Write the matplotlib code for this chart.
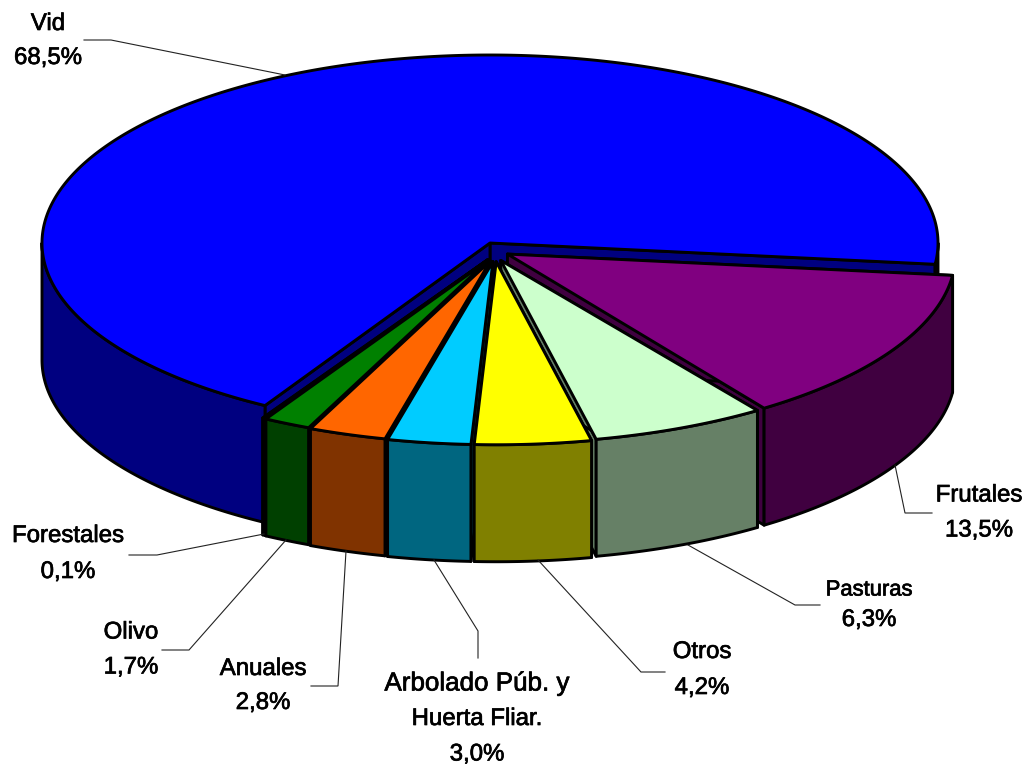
#!/usr/bin/env python3
from __future__ import annotations

import matplotlib
matplotlib.use("Agg")
import matplotlib.patheffects as pe
import matplotlib.pyplot as plt
import numpy as np
from matplotlib import font_manager
from matplotlib.patches import Polygon

# chart data
categories = ["Vid", "Frutales", "Pasturas", "Otros", "Arbolado Púb. y\nHuerta Fliar.", "Anuales", "Olivo", "Forestales"]
shares = [68.5, 13.5, 6.3, 4.2, 3.0, 2.8, 1.7, 0.1]
share_labels = ["68,5%", "13,5%", "6,3%", "4,2%", "3,0%", "2,8%", "1,7%", "0,1%"]
top_colors = ["#0000FF", "#800080", "#CCFFCC", "#FFFF00", "#00CCFF", "#FF6600", "#008000", "#000080"]
side_colors = ["#000080", "#400040", "#668066", "#808000", "#006680", "#803300", "#004000", "#000040"]

# layout, in image pixels
W, H = 1027, 769
CX, CY = 495.0, 246.0
RX, RY_BACK = 448.0, 188.0
RY_FRONT = [188.0, 188.0, 183.0, 183.0, 183.0, 183.0, 183.0, 183.0]
DEPTH = 117.0
START_ANGLE = -6.5
EXPLODE_X, EXPLODE_Y = 14.5, 15.8
VID_CENTER = (490.0, 243.0)
DRAW_ORDER = [0, 7, 6, 5, 4, 1, 2, 3]

# text centre of each line block, font size in px per line
label_pos = [(48, 41), (979, 513), (869, 605), (702, 670), (477, 719), (263, 686), (131, 650), (68, 554)]
line_gap = [34, 35, 30, 36, 35.5, 34, 35, 36]
line_px = [[24, 24], [24, 24], [22, 24], [24, 24], [26, 24, 24], [24, 24], [24, 24], [24, 24]]

leaders = [
    [(84, 40), (111, 40), (285, 75)],
    [(932, 513), (905, 513), (895, 465)],
    [(820, 605), (795, 605), (688, 545)],
    [(665, 672), (641, 672), (538, 560)],
    [(478, 658), (478, 631), (434, 560)],
    [(311, 686), (338, 686), (346, 551)],
    [(162, 650), (189, 650), (286, 540)],
    [(129, 555), (157, 555), (264, 534)],
]

installed = {f.name for f in font_manager.fontManager.ttflist}
NARROW = "Liberation Sans Narrow" in installed
print("narrow font:", NARROW)
FONT = "Liberation Sans Narrow" if NARROW else "Liberation Sans"
FONT_SCALE = 1.14 if NARROW else 1.0


def rim(center, ry_front, deg):
    a = np.radians(deg)
    s = np.sin(a)
    ry = np.where(s > 0, RY_BACK, ry_front)
    return center[0] + RX * np.cos(a), center[1] - ry * s


def arc(center, ry_front, a0, a1, dy=0.0):
    n = max(int(abs(a1 - a0) * 2), 2)
    x, y = rim(center, ry_front, np.linspace(a0, a1, n))
    return np.column_stack([x, y + dy])


def add_poly(ax, pts, color, lw=2.1):
    ax.add_patch(Polygon(pts, closed=True, facecolor=color, edgecolor="black", linewidth=lw, joinstyle="round"))


def draw_slice(ax, center, ry_front, a0, a1, top, side):
    # a0 is the clockwise end of the slice, a1 the counter-clockwise end
    c = np.array(center)
    for a in (a0, a1):
        p = np.array(rim(center, ry_front, a), dtype=float)
        d = np.array([0, DEPTH])
        add_poly(ax, [c, p, p + d, c + d], side)

    # only the part of the wall in the lower half of the ellipse can be seen
    for lo, hi in [(a0, min(a1, 0.0)), (max(a0, 180.0), a1)]:
        if hi > lo:
            add_poly(ax, np.vstack([arc(center, ry_front, lo, hi), arc(center, ry_front, hi, lo, DEPTH)]), side)

    add_poly(ax, np.vstack([[c], arc(center, ry_front, a0, a1)]), top)


def main() -> None:
    fig = plt.figure(figsize=(W / 100, H / 100), dpi=100)
    ax = fig.add_axes([0, 0, 1, 1])
    ax.set_xlim(0, W)
    ax.set_ylim(H, 0)
    ax.axis("off")

    # angles run clockwise from the start angle, Vid wraps back over the top
    sweep = np.array(shares) / sum(shares) * 360.0
    spans = {0: (START_ANGLE, START_ANGLE + sweep[0])}
    a = START_ANGLE
    for i in range(1, len(shares)):
        spans[i] = (a - sweep[i], a)
        a -= sweep[i]

    for i in DRAW_ORDER:
        a0, a1 = spans[i]
        if i == 0:
            center = VID_CENTER
        else:
            m = np.radians((a0 + a1) / 2)
            center = (CX + EXPLODE_X * np.cos(m), CY - EXPLODE_Y * np.sin(m))
        draw_slice(ax, center, RY_FRONT[i], a0, a1, top_colors[i], side_colors[i])

    for pts in leaders:
        xs, ys = zip(*pts)
        ax.plot(xs, ys, color="#222222", lw=0.8, solid_joinstyle="miter")

    for i, (x, y) in enumerate(label_pos):
        lines = categories[i].split("\n") + [share_labels[i]]
        y0 = y - line_gap[i] * (len(lines) - 1) / 2
        for k, line in enumerate(lines):
            ax.text(x, y0 + k * line_gap[i], line, ha="center", va="center", color="black",
                    family=FONT, fontsize=line_px[i][k] * 0.72 * FONT_SCALE,
                    path_effects=[pe.withStroke(linewidth=0.5, foreground="black")])

    fig.savefig("out.png", dpi=100)
    plt.close(fig)


if __name__ == "__main__":
    main()
